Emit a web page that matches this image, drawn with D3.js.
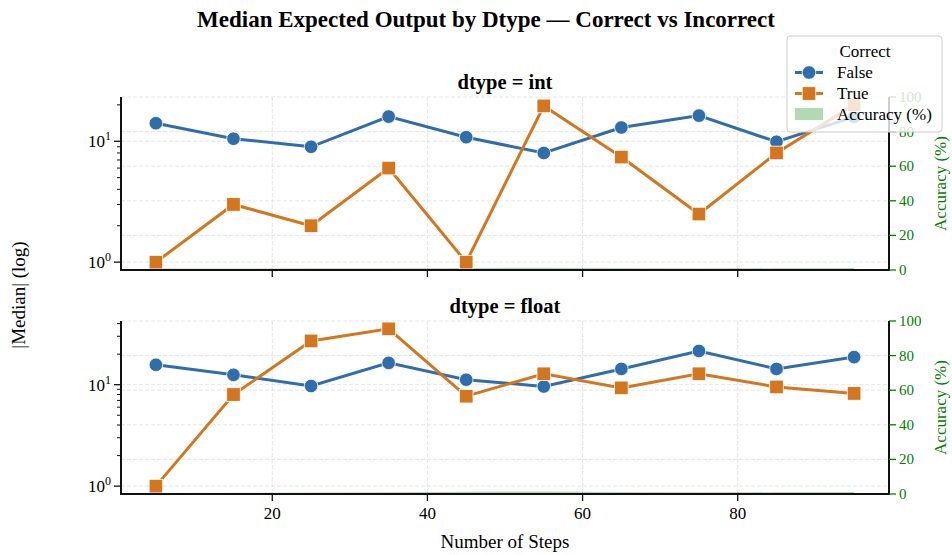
<!DOCTYPE html>
<html><head><meta charset="utf-8">
<script src="https://cdn.jsdelivr.net/npm/d3@7"></script>
<style>body{margin:0;background:#fff} svg text{font-family:"Liberation Serif","Times New Roman",serif}</style>
</head><body><svg id="c" width="952" height="555"></svg>
<script>
const steps = [5, 15, 25, 35, 45, 55, 65, 75, 85, 95];
const intFalse = [14.1, 10.5, 9.0, 16.0, 10.8, 8.0, 13.0, 16.3, 9.9, 15.9];
const intTrue = [1.0, 3.0, 2.0, 6.0, 1.0, 19.6, 7.4, 2.5, 8.0, 20.0];
const floatFalse = [15.7, 12.5, 9.7, 16.4, 11.2, 9.6, 14.3, 21.5, 14.3, 18.7];
const floatTrue = [1.0, 8.0, 27.0, 35.5, 7.7, 12.8, 9.3, 12.8, 9.5, 8.2];
const intAcc = [0.8, 0.9, 1.0, 1.0, 1.2, 1.3, 1.1, 1.0, 1.1, 1.2];
const floatAcc = [0.6, 0.7, 0.8, 1.0, 1.3, 1.5, 1.2, 1.0, 1.1, 1.2];
const accTicks = [0, 20, 40, 60, 80, 100];
const xTicks = [20, 40, 60, 80];
const seriesNames = ["False", "True"];
const colors = {False: "#2f6eab", True: "#d4761d"};
const green = "#008000";

const svg = d3.select("#c");
const L = 121, R = 889;
const x = d3.scaleLinear().domain([0.5, 99.5]).range([L, R]);

svg.append("text").attr("x", 486).attr("y", 27).attr("text-anchor", "middle")
  .attr("font-size", 23).attr("font-weight", "bold").text("Median Expected Output by Dtype — Correct vs Incorrect");

const panels = [
  {title: "dtype = int", f: intFalse, t: intTrue, acc: intAcc, top: 97, bottom: 270, labels: false},
  {title: "dtype = float", f: floatFalse, t: floatTrue, acc: floatAcc, top: 321, bottom: 494, labels: true}
];

panels.forEach(p => {
  const g = svg.append("g");
  const mx = Math.log10(d3.max([...p.f, ...p.t]));
  const y = d3.scaleLog().domain([Math.pow(10, -0.05 * mx), Math.pow(10, 1.05 * mx)]).range([p.bottom, p.top]);
  const ya = d3.scaleLinear().domain([0, 100]).range([p.bottom, p.top]);

  // grid
  const grid = g.append("g").attr("stroke", "#dedede").attr("stroke-width", 0.8).attr("stroke-dasharray", "4,2");
  xTicks.forEach(v => grid.append("line").attr("x1", x(v)).attr("x2", x(v)).attr("y1", p.top).attr("y2", p.bottom));
  [1, 10].forEach(v => grid.append("line").attr("x1", L).attr("x2", R).attr("y1", y(v)).attr("y2", y(v)));
  accTicks.forEach(v => grid.append("line").attr("x1", L).attr("x2", R).attr("y1", ya(v)).attr("y2", ya(v)));

  // accuracy area
  const area = d3.area().x((d, i) => x(steps[i])).y0(ya(0)).y1(d => ya(d));
  g.append("path").datum(p.acc).attr("d", area).attr("fill", green).attr("fill-opacity", 0.3);

  // lines
  [["False", p.f], ["True", p.t]].forEach(([name, vals]) => {
    const line = d3.line().x((d, i) => x(steps[i])).y(d => y(d));
    g.append("path").datum(vals).attr("d", line).attr("fill", "none").attr("stroke", colors[name]).attr("stroke-width", 3);
    if (name === "False") {
      g.selectAll(null).data(vals).enter().append("circle")
        .attr("cx", (d, i) => x(steps[i])).attr("cy", d => y(d)).attr("r", 6.8)
        .attr("fill", colors[name]).attr("stroke", "#fff").attr("stroke-width", 0.8);
    } else {
      g.selectAll(null).data(vals).enter().append("rect")
        .attr("x", (d, i) => x(steps[i]) - 6.8).attr("y", d => y(d) - 6.8).attr("width", 13.6).attr("height", 13.6)
        .attr("fill", colors[name]).attr("stroke", "#fff").attr("stroke-width", 0.8);
    }
  });

  // left axis
  const majors = [1, 10];
  const minors = [];
  [1, 10].forEach(b => { for (let k = 2; k <= 9; k++) { const v = b * k; if (v >= y.domain()[0] && v <= y.domain()[1]) minors.push(v); } });
  const ax = g.append("g").attr("stroke", "#111");
  minors.forEach(v => ax.append("line").attr("x1", L - 4).attr("x2", L).attr("y1", y(v)).attr("y2", y(v)).attr("stroke-width", 1));
  majors.forEach(v => {
    ax.append("line").attr("x1", L - 7).attr("x2", L).attr("y1", y(v)).attr("y2", y(v)).attr("stroke-width", 1.3);
    const t = g.append("text").attr("x", L - 10).attr("y", y(v) + 6).attr("text-anchor", "end").attr("font-size", 17);
    t.append("tspan").text("10");
    t.append("tspan").attr("dy", -7).attr("font-size", 12).text(v === 1 ? "0" : "1");
  });
  g.append("line").attr("x1", L).attr("x2", L).attr("y1", p.top).attr("y2", p.bottom + 1).attr("stroke", "#111").attr("stroke-width", 2);
  // bottom axis
  g.append("line").attr("x1", L - 1).attr("x2", R + 1).attr("y1", p.bottom).attr("y2", p.bottom).attr("stroke", "#111").attr("stroke-width", 2);
  xTicks.forEach(v => {
    g.append("line").attr("x1", x(v)).attr("x2", x(v)).attr("y1", p.bottom).attr("y2", p.bottom + 7).attr("stroke", "#111").attr("stroke-width", 1.3);
    if (p.labels) g.append("text").attr("x", x(v)).attr("y", p.bottom + 25).attr("text-anchor", "middle").attr("font-size", 17).text(v);
  });
  // right axis
  g.append("line").attr("x1", R).attr("x2", R).attr("y1", p.top).attr("y2", p.bottom + 1).attr("stroke", "#111").attr("stroke-width", 2);
  accTicks.forEach(v => {
    g.append("line").attr("x1", R).attr("x2", R + 7).attr("y1", ya(v)).attr("y2", ya(v)).attr("stroke", green).attr("stroke-width", 1.3);
    g.append("text").attr("x", R + 10).attr("y", ya(v) + 5).attr("font-size", 15).attr("fill", green).text(v);
  });
  g.append("text").attr("transform", `translate(946,${(p.top + p.bottom) / 2}) rotate(-90)`).attr("text-anchor", "middle")
    .attr("font-size", 17).attr("fill", green).text("Accuracy (%)");
  // title
  g.append("text").attr("x", (L + R) / 2).attr("y", p.top - 8).attr("text-anchor", "middle").attr("font-size", 20.5)
    .attr("font-weight", "bold").text(p.title);
});

svg.append("text").attr("x", (L + R) / 2).attr("y", 548).attr("text-anchor", "middle").attr("font-size", 19).text("Number of Steps");
svg.append("text").attr("transform", "translate(25,295) rotate(-90)").attr("text-anchor", "middle").attr("font-size", 19).text("|Median| (log)");

// legend
const lg = svg.append("g");
lg.append("rect").attr("x", 787).attr("y", 36).attr("width", 155).attr("height", 96).attr("rx", 3)
  .attr("fill", "#fff").attr("fill-opacity", 0.8).attr("stroke", "#cccccc");
lg.append("text").attr("x", 865).attr("y", 57).attr("text-anchor", "middle").attr("font-size", 17).text("Correct");
seriesNames.forEach((name, i) => {
  const cy = 72.5 + i * 21;
  lg.append("line").attr("x1", 795).attr("x2", 823).attr("y1", cy).attr("y2", cy).attr("stroke", colors[name]).attr("stroke-width", 3);
  if (name === "False") lg.append("circle").attr("cx", 809).attr("cy", cy).attr("r", 6.8).attr("fill", colors[name]).attr("stroke", "#fff").attr("stroke-width", 0.8);
  else lg.append("rect").attr("x", 802.2).attr("y", cy - 6.8).attr("width", 13.6).attr("height", 13.6).attr("fill", colors[name]).attr("stroke", "#fff").attr("stroke-width", 0.8);
  lg.append("text").attr("x", 837).attr("y", cy + 5.5).attr("font-size", 17).text(name);
});
lg.append("rect").attr("x", 795).attr("y", 108).attr("width", 28).attr("height", 12).attr("fill", green).attr("fill-opacity", 0.3);
lg.append("text").attr("x", 837).attr("y", 120).attr("font-size", 17).text("Accuracy (%)");
</script></body></html>
